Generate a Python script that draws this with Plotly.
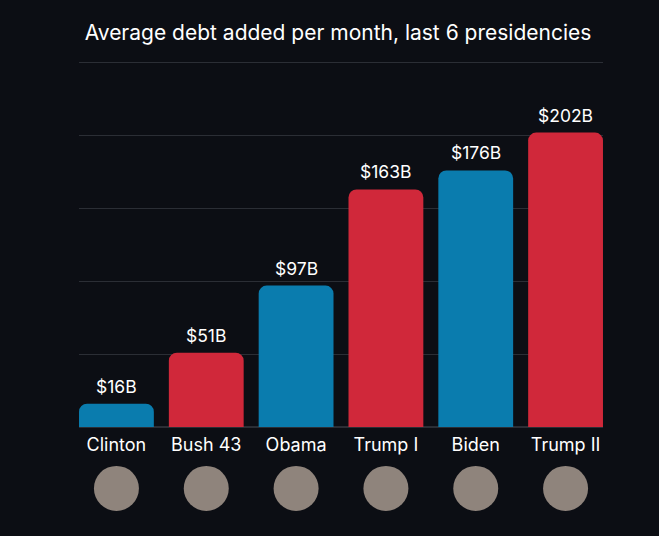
import plotly.graph_objects as go

# data
presidents = ["Clinton", "Bush 43", "Obama", "Trump I", "Biden", "Trump II"]
debt_per_month = [16, 51, 97, 163, 176, 202]  # billions of dollars
party = ["D", "R", "D", "R", "D", "R"]

BG = "#0c0e14"
BLUE = "#0a7cae"
RED = "#d0283a"
GRID = "#2b2e35"
FONT = "Inter"

bar_colors = [BLUE if p == "D" else RED for p in party]

bars = go.Bar(
    x=presidents,
    y=debt_per_month,
    marker=dict(color=bar_colors, line=dict(width=0)),
    hoverinfo="skip",
)

# placeholders for the portrait photos under each name
portraits = go.Scatter(
    x=presidents,
    y=[0.38] * len(presidents),
    xaxis="x",
    yaxis="y2",
    mode="markers",
    marker=dict(size=45, color="#8f847c", line=dict(width=0)),
    hoverinfo="skip",
)

# value labels above the bars
labels = [
    dict(
        x=name, y=val, xref="x", yref="y",
        text="$%dB" % val, showarrow=False,
        yanchor="bottom", yshift=5,
        font=dict(size=17.5, color="white", family=FONT),
    )
    for name, val in zip(presidents, debt_per_month)
]

layout = go.Layout(
    width=659,
    height=536,
    paper_bgcolor=BG,
    plot_bgcolor=BG,
    showlegend=False,
    margin=dict(l=79, r=56, t=56, b=10),
    font=dict(family=FONT, color="white"),
    title=dict(
        text="Average debt added per month, last 6 presidencies",
        x=338 / 659, xanchor="center",
        y=1 - 33 / 536, yanchor="middle",
        font=dict(size=21, color="white", family=FONT),
    ),
    annotations=labels,
    bargap=0.167,
    barcornerradius=8,
    xaxis=dict(
        range=[-0.4167, 5.4167],
        showgrid=False,
        zeroline=False,
        showline=False,
        ticks="",
        ticklabelstandoff=5,
        tickfont=dict(size=18, color="white", family=FONT),
        anchor="y",
        fixedrange=True,
    ),
    yaxis=dict(
        domain=[0.2106, 1],
        range=[0, 254.5],
        dtick=50,
        showgrid=True,
        gridcolor=GRID,
        gridwidth=1,
        zeroline=True,
        zerolinecolor=GRID,
        showticklabels=False,
        fixedrange=True,
    ),
    yaxis2=dict(
        domain=[0, 0.2106],
        range=[0, 1],
        showgrid=False,
        zeroline=False,
        showticklabels=False,
        fixedrange=True,
    ),
)

fig = go.Figure(data=[bars, portraits], layout=layout)
fig.write_html(
    "out.html",
    config={"displayModeBar": False},
    post_script="document.body.style.margin='0';document.body.style.background='%s';" % BG,
)
